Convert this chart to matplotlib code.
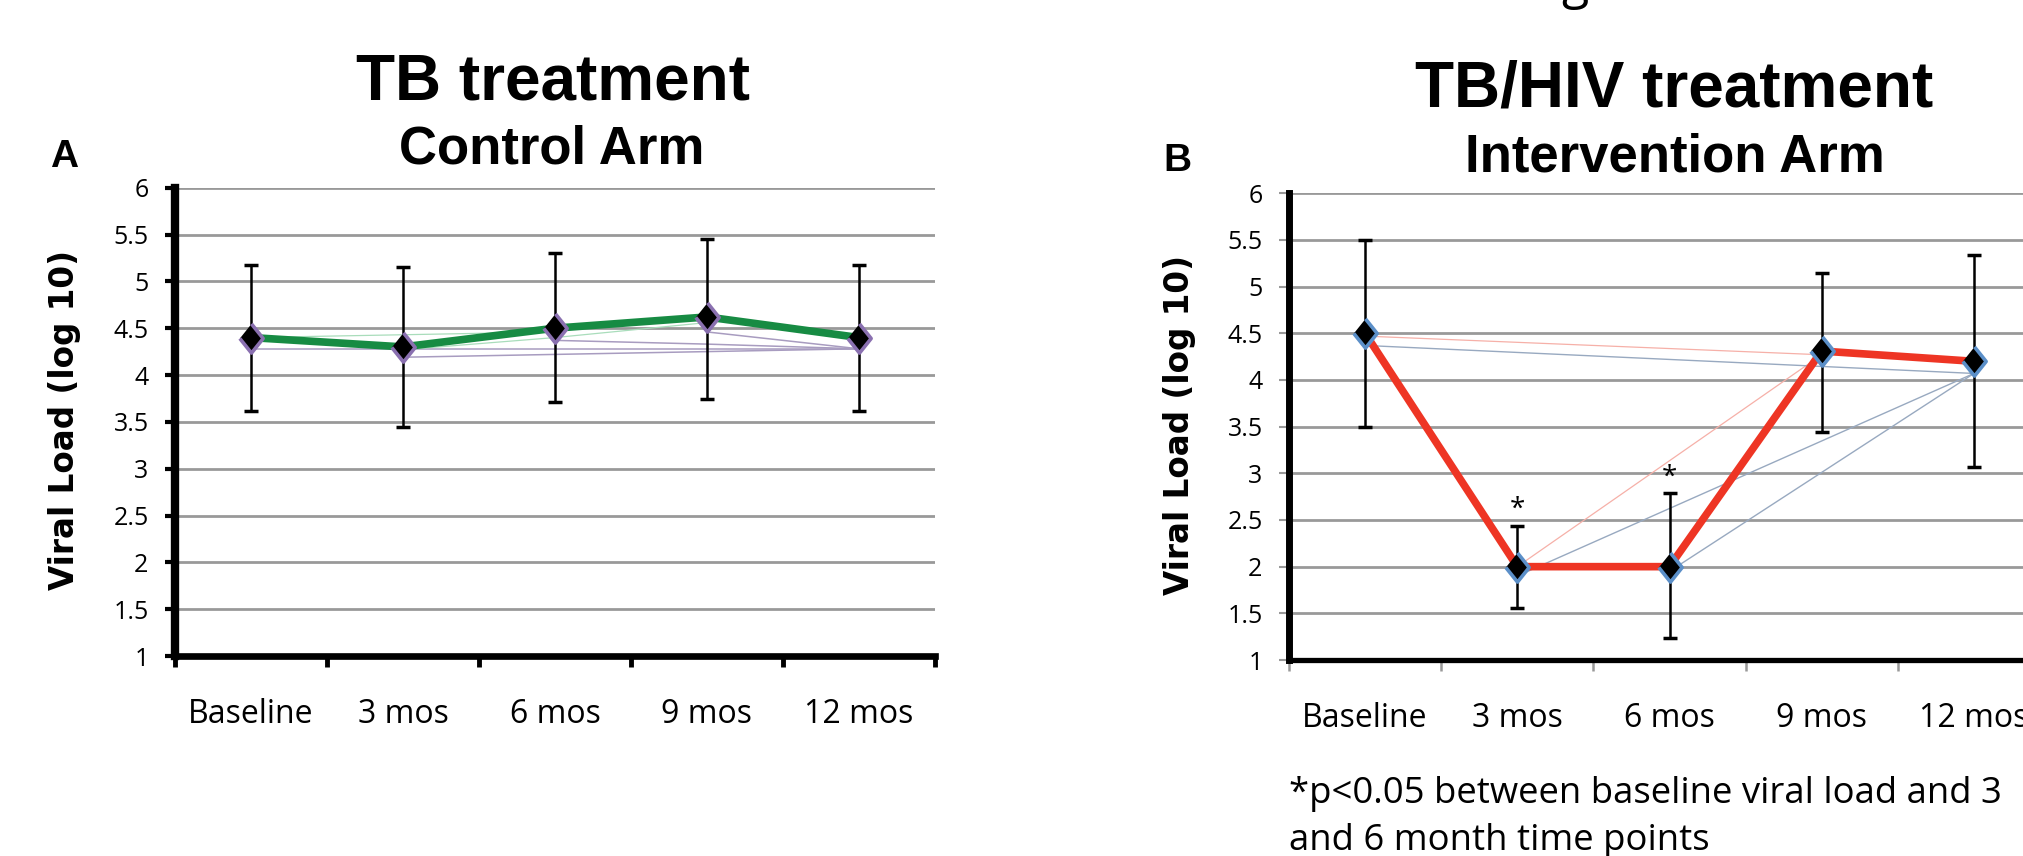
import numpy as np
import matplotlib
matplotlib.use("Agg")
import matplotlib.pyplot as plt

# ---------------- data ----------------
categories = ["Baseline", "3 mos", "6 mos", "9 mos", "12 mos"]

control_mean = [4.40, 4.30, 4.50, 4.62, 4.40]
control_upper = [5.18, 5.15, 5.30, 5.45, 5.18]
control_lower = [3.62, 3.44, 3.71, 3.74, 3.62]

interv_mean = [4.50, 2.00, 2.00, 4.31, 4.20]
interv_upper = [5.50, 2.44, 2.79, 5.15, 5.34]
interv_lower = [3.50, 1.56, 1.24, 3.44, 3.07]
interv_significant = [False, True, True, False, False]

# faint individual connector lines (category index list, values)
control_faint_purple = [([0, 4], [4.28, 4.28]),
                        ([1, 3, 4], [4.19, 4.25, 4.28]),
                        ([2, 3, 4], [4.37, 4.33, 4.28]),
                        ([3, 4], [4.46, 4.28])]
control_faint_green = [([0, 1, 2], [4.40, 4.43, 4.46]),
                       ([1, 2, 3], [4.27, 4.40, 4.56])]
interv_faint_red = [([0, 3], [4.47, 4.27]),
                    ([1, 3], [2.00, 4.27])]
interv_faint_blue = [([0, 4], [4.37, 4.07]),
                     ([1, 4], [1.90, 4.07]),
                     ([2, 4], [1.95, 4.07])]

yticks = [1, 1.5, 2, 2.5, 3, 3.5, 4, 4.5, 5, 5.5, 6]
ytick_labels = ["1", "1.5", "2", "2.5", "3", "3.5", "4", "4.5", "5", "5.5", "6"]

ylabel = "Viral Load (log 10)"
footnote_lines = ["*p<0.05 between baseline viral load and 3",
                  "and 6 month time points"]

# ---------------- style ----------------
W, H = 2023, 856
fig = plt.figure(figsize=(W / 100, H / 100), dpi=100)

TITLE_FONT = "Liberation Sans"
TICK_FONT = "Open Sans"
GRID_C = "#999999"
diamond = [(0, 1), (0.8, 0), (0, -1), (-0.8, 0)]


def draw_panel(ax, mean, upper, lower, line_color, edge_color, faint_sets,
               spine_w, ytick_color, ytick_w, xtick_color, xtick_w):
    x = np.arange(len(categories))
    ax.set_xlim(-0.5, len(categories) - 0.5)
    ax.set_ylim(1, 6)
    for v in yticks[1:]:
        ax.axhline(v, color=GRID_C, lw=2.0, zorder=1)
    for lines, col, lw in faint_sets:
        for xi, yv in lines:
            ax.plot(xi, yv, color=col, lw=lw, zorder=2, solid_capstyle="butt")
    ax.plot(x, mean, color=line_color, lw=5.5, zorder=3, solid_joinstyle="miter")
    m = np.array(mean)
    ax.errorbar(x, mean, yerr=[m - np.array(lower), np.array(upper) - m],
                fmt="none", ecolor="black", elinewidth=1.8, capsize=5,
                capthick=2.5, zorder=4)
    ax.plot(x, mean, ls="none", marker=diamond, ms=21, mfc="black",
            mec=edge_color, mew=2.6, zorder=5)

    for s in ["top", "right"]:
        ax.spines[s].set_visible(False)
    ax.spines["left"].set_linewidth(spine_w)
    ax.spines["bottom"].set_linewidth(spine_w - 1.2)
    ax.spines["left"].set_zorder(6)
    ax.spines["bottom"].set_zorder(6)

    ax.set_yticks(yticks)
    ax.set_yticklabels(ytick_labels, family=TICK_FONT, fontsize=18)
    ax.tick_params(axis="y", length=7, width=ytick_w, color=ytick_color, pad=12)

    ax.set_xticks(np.arange(-0.5, len(categories), 1.0))
    ax.set_xticklabels([])
    ax.tick_params(axis="x", which="major", length=8, width=xtick_w,
                   color=xtick_color)
    ax.set_xticks(x, minor=True)
    ax.set_xticklabels(categories, minor=True, family=TICK_FONT, fontsize=23)
    ax.tick_params(axis="x", which="minor", length=0, pad=30)
    ax.set_facecolor("none")


# ---------------- panel A ----------------
axA = fig.add_axes([175 / W, 1 - 656 / H, 760 / W, (656 - 187.7) / H])
draw_panel(axA, control_mean, control_upper, control_lower,
           "#178B43", "#8A70B0",
           [(control_faint_purple, "#A89CC0", 1.1),
            (control_faint_green, "#A9DDBB", 0.9)],
           spine_w=6, ytick_color="black", ytick_w=3,
           xtick_color="black", xtick_w=3.5)

# ---------------- panel B ----------------
axB = fig.add_axes([1289 / W, 1 - 660 / H, 761 / W, (660 - 193.3) / H])
draw_panel(axB, interv_mean, interv_upper, interv_lower,
           "#EE3524", "#5B8FC8",
           [(interv_faint_red, "#F6B0A8", 0.9),
            (interv_faint_blue, "#98A9C0", 1.0)],
           spine_w=5, ytick_color="#999999", ytick_w=1.5,
           xtick_color="#999999", xtick_w=1.8)

for i, sig in enumerate(interv_significant):
    if sig:
        axB.annotate("*", xy=(i, interv_upper[i]), xytext=(0, 1),
                     textcoords="offset points", ha="center", va="bottom",
                     family=TICK_FONT, fontsize=20, zorder=7)

# ---------------- labels & titles ----------------
fig.text(65 / W, 1 - 420 / H, ylabel, rotation=90, ha="center", va="center",
         family="DejaVu Sans", fontweight="bold", fontsize=23.5)
fig.text(1179 / W, 1 - 425 / H, ylabel, rotation=90, ha="center", va="center",
         family="DejaVu Sans", fontweight="bold", fontsize=23.5)

fig.text(553 / W, 1 - 100 / H, "TB treatment", ha="center", va="baseline",
         family=TITLE_FONT, fontweight="bold", fontsize=46)
fig.text(552 / W, 1 - 164 / H, "Control Arm", ha="center", va="baseline",
         family=TITLE_FONT, fontweight="bold", fontsize=38)
fig.text(64 / W, 1 - 167 / H, "A", ha="center", va="baseline",
         family=TITLE_FONT, fontweight="bold", fontsize=28)

fig.text(1674 / W, 1 - 107 / H, "TB/HIV treatment", ha="center", va="baseline",
         family=TITLE_FONT, fontweight="bold", fontsize=46)
fig.text(1675 / W, 1 - 171 / H, "Intervention Arm", ha="center", va="baseline",
         family=TITLE_FONT, fontweight="bold", fontsize=38)
fig.text(1177 / W, 1 - 171 / H, "B", ha="center", va="baseline",
         family=TITLE_FONT, fontweight="bold", fontsize=28)

for k, line in enumerate(footnote_lines):
    fig.text(1289 / W, 1 - (803 + 47 * k) / H, line, ha="left", va="baseline",
             family=TICK_FONT, fontsize=26.3)

# descender of a heading cut off at the top edge
fig.text(1575 / W, 1 + 2 / H, "g", ha="center", va="baseline",
         family=TICK_FONT, fontsize=36)

fig.savefig("out.png", dpi=100, facecolor="white")
